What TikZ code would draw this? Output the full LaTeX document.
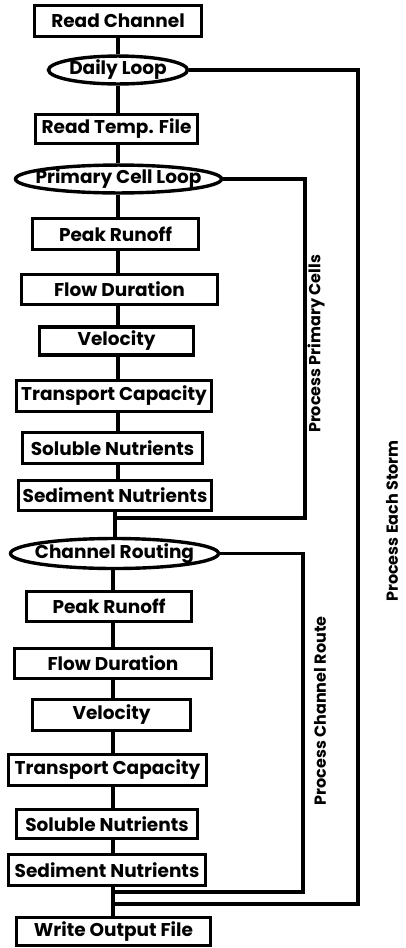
\documentclass[tikz,border=0pt]{standalone}
\usepackage{fontspec}
\setmainfont{Poppins}
\usetikzlibrary{shapes.geometric}
\newcommand\boxfont{\fontsize{18.5}{19}\selectfont\bfseries}
\newcommand\sidefont{\fontsize{16}{17}\selectfont\bfseries}
\tikzset{
  box/.style={draw, rectangle, line width=3.4pt, inner sep=0pt, font=\boxfont},
  loopell/.style={draw, ellipse, line width=3.4pt, inner sep=0pt, font=\boxfont},
  link/.style={line width=3.2pt},
  side/.style={rotate=90, inner sep=0pt, font=\sidefont}
}
\begin{document}
\begin{tikzpicture}[x=1pt,y=-1pt]
\useasboundingbox (0,0) rectangle (406,948);
% spine x positions
\coordinate (sp1) at (118,0);
\coordinate (spm) at (115,0);
\coordinate (sp2) at (113,0);
% upper column
\node[box, minimum width=167, minimum height=31] (readch) at (118,21) {Read Channel};
\node[loopell, minimum width=139, minimum height=24] (daily) at (118,70) {\makebox[0pt]{Daily Loop}};
\node[box, minimum width=162, minimum height=29] (readtemp) at (116.5,129) {Read Temp. File};
\node[loopell, minimum width=206, minimum height=27] (pcl) at (118.5,179) {\makebox[0pt]{Primary Cell Loop}};
\node[box, minimum width=166, minimum height=31] (pr1) at (115.5,234) {Peak Runoff};
\node[box, minimum width=196, minimum height=30] (fd1) at (119.5,289.5) {Flow Duration};
\node[box, minimum width=154, minimum height=28] (vel1) at (116.5,341) {Velocity};
\node[box, minimum width=195, minimum height=31] (tc1) at (114,396) {Transport Capacity};
\node[box, minimum width=180, minimum height=31] (sol1) at (112.5,448) {Soluble Nutrients};
\node[box, minimum width=193, minimum height=30] (sed1) at (115,495.5) {Sediment Nutrients};
% lower column
\node[loopell, minimum width=208, minimum height=30] (cr) at (114.5,553.5) {\makebox[0pt]{Channel Routing}};
\node[box, minimum width=165, minimum height=30] (pr2) at (109,606.5) {Peak Runoff};
\node[box, minimum width=197, minimum height=30] (fd2) at (113,663.5) {Flow Duration};
\node[box, minimum width=158, minimum height=31] (vel2) at (111.5,715) {Velocity};
\node[box, minimum width=198, minimum height=31] (tc2) at (107.5,770) {Transport Capacity};
\node[box, minimum width=181, minimum height=29] (sol2) at (107,824) {Soluble Nutrients};
\node[box, minimum width=197, minimum height=31] (sed2) at (107,870) {Sediment Nutrients};
\node[box, minimum width=194, minimum height=28] (wof) at (113.5,931.5) {Write Output File};
% spine connectors
\draw[link] (readch.south -| sp1) -- (daily.north -| sp1);
\draw[link] (daily.south -| sp1) -- (readtemp.north -| sp1);
\draw[link] (readtemp.south -| sp1) -- (pcl.north -| sp1);
\draw[link] (pcl.south -| sp1) -- (pr1.north -| sp1);
\draw[link] (pr1.south -| sp1) -- (fd1.north -| sp1);
\draw[link] (fd1.south -| sp1) -- (vel1.north -| sp1);
\draw[link] (vel1.south -| sp1) -- (tc1.north -| sp1);
\draw[link] (tc1.south -| sp1) -- (sol1.north -| sp1);
\draw[link] (sol1.south -| sp1) -- (sed1.north -| sp1);
\draw[link] (sed1.south -| spm) -- (cr.north -| spm);
\draw[link] (cr.south -| sp2) -- (pr2.north -| sp2);
\draw[link] (pr2.south -| sp2) -- (fd2.north -| sp2);
\draw[link] (fd2.south -| sp2) -- (vel2.north -| sp2);
\draw[link] (vel2.south -| sp2) -- (tc2.north -| sp2);
\draw[link] (tc2.south -| sp2) -- (sol2.north -| sp2);
\draw[link] (sol2.south -| sp2) -- (sed2.north -| sp2);
\draw[link] (sed2.south -| sp2) -- (wof.north -| sp2);
% loops
\coordinate (cellR) at (305,518);
\coordinate (cellJ) at (115,518);
\coordinate (routeR) at (303,892);
\coordinate (routeJ) at (113,892);
\coordinate (stormR) at (358,904);
\coordinate (stormJ) at (113,904);
\draw[link] (pcl.east) -| (cellR) -- (cellJ);
\draw[link] (cr.east) -| (routeR) -- (routeJ);
\draw[link] (daily.east) -| (stormR) -- (stormJ);
% side labels
\node[side] (ppc) at (316,344) {Process Primary Cells};
\node[side] (pcr) at (320,711) {Process Channel Route};
\node[side] (pes) at (392,521) {Process Each Storm};
\end{tikzpicture}
\end{document}
